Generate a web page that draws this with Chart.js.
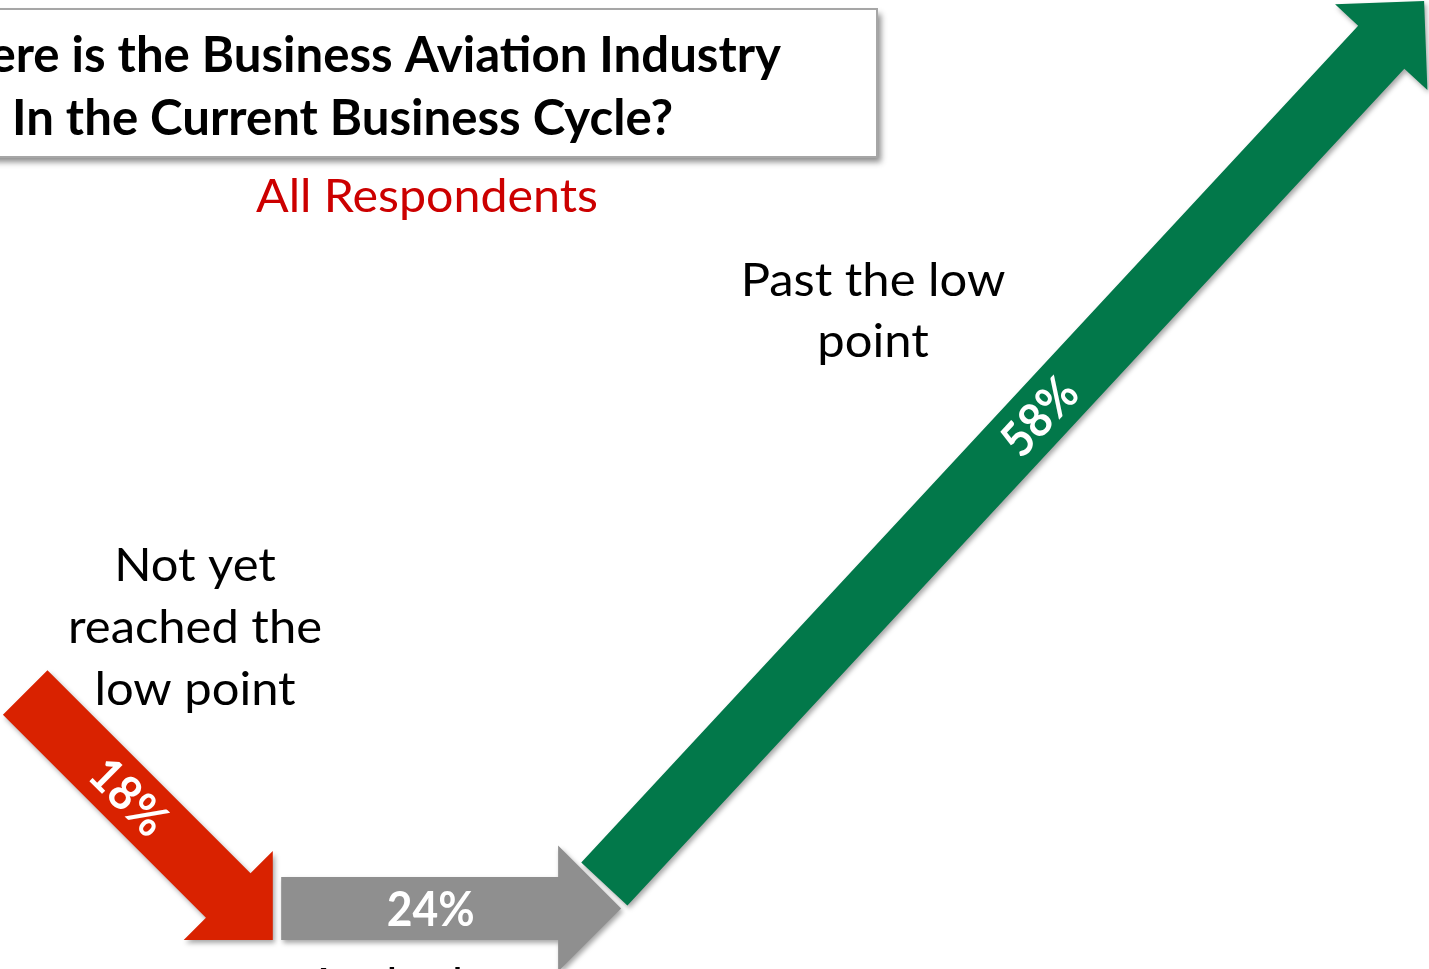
<!DOCTYPE html>
<html><head><meta charset="utf-8">
<script src="https://cdn.jsdelivr.net/npm/chart.js@4.4.1/dist/chart.umd.min.js"></script>
<style>html,body{margin:0;padding:0;background:#fff;overflow:hidden}#wrap{width:1429px;height:969px;position:relative}</style>
</head><body><div id="wrap"><canvas id="c" width="1429" height="969"></canvas></div>
<script>
// ---- data ----
const categories = [["Not yet", "reached the", "low point"], ["At the low", "point"], ["Past the low", "point"]];
const values = [18, 24, 58];
const valueLabels = values.map(v => v + "%");
const titleLines = ["Where is the Business Aviation Industry", "In the Current Business Cycle?"];
const subtitle = "All Respondents";

// ---- style / layout ----
const arrowColors = ["#D92200", "#8F8F8F", "#02784A"];
const X_MIN = -1.8, X_MAX = 100.35;
const Y_MAX = (X_MAX - X_MIN) * 969 / 1429;
const arrowLayout = [
  { dx0: 0, dx1: -0.3, anchor: "end", y: 2.07, slope: -1 },
  { dx0: 0.3, dx1: 0.6, anchor: "start", y: 4.32, slope: 0 },
  { dx0: -0.6, dx1: 0, anchor: "start", y: 6.08, slope: 1.077 }
];
const labelFrac = [0.42, 0.44, 0.53];
const SHAFT = 63, HEAD_HALF = 63, HEAD_LEN = 63;
const FONT = "Lato, 'Open Sans', sans-serif";

// build datasets: each category = one arrow from tail to tip along cumulative share axis
let cum = 0;
const datasets = values.map((v, i) => {
  const L = arrowLayout[i];
  const x0 = cum + L.dx0, x1 = cum + v + L.dx1;
  let y0, y1;
  if (L.anchor === "end") { y1 = L.y; y0 = y1 - L.slope * (x1 - x0); }
  else { y0 = L.y; y1 = y0 + L.slope * (x1 - x0); }
  cum += v;
  return {
    label: categories[i].join(" "),
    data: [{ x: x0, y: y0 }, { x: x1, y: y1 }],
    pointRadius: 0, showLine: false, borderWidth: 0,
    backgroundColor: arrowColors[i]
  };
});

function drawArrow(ctx, ax, ay, bx, by, color) {
  const len = Math.hypot(bx - ax, by - ay);
  const ux = (bx - ax) / len, uy = (by - ay) / len;
  const nx = -uy, ny = ux;
  const cx = bx - ux * HEAD_LEN, cy = by - uy * HEAD_LEN;
  const w = SHAFT / 2;
  ctx.save();
  ctx.shadowColor = "rgba(0,0,0,0.35)";
  ctx.shadowBlur = 5; ctx.shadowOffsetX = 2; ctx.shadowOffsetY = 3;
  ctx.fillStyle = color;
  ctx.beginPath();
  ctx.moveTo(ax + nx * w, ay + ny * w);
  ctx.lineTo(cx + nx * w, cy + ny * w);
  ctx.lineTo(cx + nx * HEAD_HALF, cy + ny * HEAD_HALF);
  ctx.lineTo(bx, by);
  ctx.lineTo(cx - nx * HEAD_HALF, cy - ny * HEAD_HALF);
  ctx.lineTo(cx - nx * w, cy - ny * w);
  ctx.lineTo(ax - nx * w, ay - ny * w);
  ctx.closePath();
  ctx.fill();
  ctx.restore();
}

function measure(ctx, text, font) {
  ctx.save(); ctx.font = font; const w = ctx.measureText(text).width; ctx.restore(); return w;
}
function drawText(ctx, text, x, y, font, color, sx, align, rot) {
  ctx.save();
  ctx.font = font; ctx.fillStyle = color;
  ctx.textAlign = align || "center"; ctx.textBaseline = "alphabetic";
  ctx.translate(x, y);
  if (rot) ctx.rotate(rot);
  ctx.scale(sx, 1);
  ctx.fillText(text, 0, 0);
  ctx.restore();
}

const decorPlugin = {
  id: "decor",
  beforeDatasetsDraw(chart) {
    const ctx = chart.ctx;
    // title box
    ctx.save();
    ctx.shadowColor = "rgba(0,0,0,0.45)";
    ctx.shadowBlur = 6; ctx.shadowOffsetX = 4; ctx.shadowOffsetY = 5;
    ctx.fillStyle = "#fff";
    ctx.fillRect(-200, 9, 1077, 148);
    ctx.restore();
    ctx.save();
    ctx.strokeStyle = "#A6A6A6"; ctx.lineWidth = 2;
    ctx.strokeRect(-200, 9, 1077, 148);
    ctx.restore();
    const tFont = "bold 49px " + FONT;
    const tsx = 661 / measure(ctx, titleLines[1], tFont);
    drawText(ctx, titleLines[0], 781, 72, tFont, "#000", tsx, "right");
    drawText(ctx, titleLines[1], 342.5, 135, tFont, "#000", tsx, "center");
    const sFont = "46px " + FONT;
    drawText(ctx, subtitle, 427, 212, sFont, "#CC0000", 342 / measure(ctx, subtitle, sFont), "center");
    // category labels
    const lsx = 254 / measure(ctx, "reached the", sFont);
    const pos = [
      { x: 195, y: [581, 643, 705] },
      { x: 418, y: [1001, 1063] },
      { x: 873, y: [296, 357] }
    ];
    categories.forEach((lines, i) => {
      lines.forEach((t, j) => drawText(ctx, t, pos[i].x, pos[i].y[j], sFont, "#000", lsx, "center"));
    });
  },
  afterDatasetsDraw(chart) {
    const ctx = chart.ctx;
    chart.data.datasets.forEach((ds, i) => {
      const m = chart.getDatasetMeta(i).data;
      drawArrow(ctx, m[0].x, m[0].y, m[1].x, m[1].y, ds.backgroundColor);
    });
    const vFont = "bold 48px " + FONT;
    const vsx = 88 / measure(ctx, "24%", vFont);
    chart.data.datasets.forEach((ds, i) => {
      const m = chart.getDatasetMeta(i).data;
      const f = labelFrac[i];
      const px = m[0].x + (m[1].x - m[0].x) * f;
      const py = m[0].y + (m[1].y - m[0].y) * f;
      const ang = Math.atan2(m[1].y - m[0].y, m[1].x - m[0].x);
      const cap = 48 * 0.72 / 2;
      const ox = -Math.sin(ang) * cap, oy = Math.cos(ang) * cap;
      drawText(ctx, valueLabels[i], px + ox, py + oy, vFont, "#fff", vsx, "center", ang);
    });
  }
};

new Chart(document.getElementById("c"), {
  type: "scatter",
  data: { datasets },
  options: {
    responsive: false, animation: false, devicePixelRatio: 1,
    layout: { padding: 0 },
    scales: {
      x: { type: "linear", min: X_MIN, max: X_MAX, display: false },
      y: { type: "linear", min: 0, max: Y_MAX, display: false }
    },
    plugins: { legend: { display: false }, tooltip: { enabled: false } }
  },
  plugins: [decorPlugin]
});
</script>
</body></html>
